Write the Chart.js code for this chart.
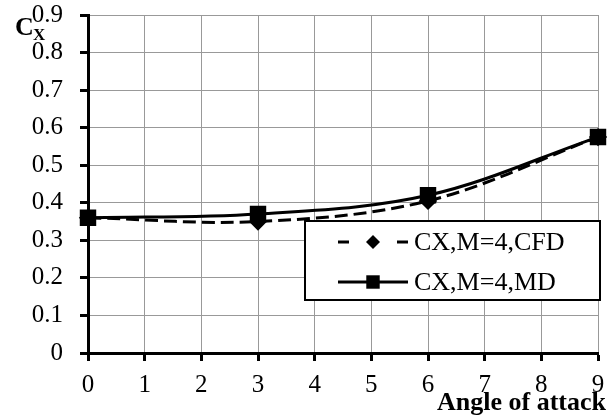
<!DOCTYPE html>
<html lang="en">

<head>
    <meta charset="UTF-8">
    <title>Cx vs angle of attack</title>
    <script src="https://cdn.jsdelivr.net/npm/chart.js"></script>
    <style>
        body { margin: 0; background: #ffffff; }
        #wrap { width: 613px; height: 419px; position: relative; }
    </style>
</head>

<body>
    <div id="wrap"><canvas id="myChart"></canvas></div>

    <script>
        // values
        const angles = [ 0, 3, 6, 9 ];
        const cxCfd = [ 0.36, 0.35, 0.405, 0.575 ];
        const cxMd = [ 0.36, 0.37, 0.42, 0.575 ];
        const seriesLabels = [ 'CX,M=4,CFD', 'CX,M=4,MD' ];
        const xTitle = 'Angle of attack';

        const serif = "'Liberation Serif', 'Times New Roman', serif";

        const toPoints = ( ys ) => angles.map( ( a, i ) => ( { x: a, y: ys[ i ] } ) );

        // draws the C_x label, the x title and the boxed legend
        const extrasPlugin = {
            id: 'extras',
            afterDraw( chart ) {
                const ctx = chart.ctx;
                ctx.save();
                ctx.fillStyle = '#000';
                ctx.textBaseline = 'alphabetic';
                ctx.textAlign = 'left';
                ctx.font = `bold 26px ${ serif }`;
                ctx.fillText( 'C', 15, 35 );
                ctx.font = `bold 17px ${ serif }`;
                ctx.fillText( 'X', 33, 40 );

                ctx.font = `bold 26px ${ serif }`;
                ctx.textAlign = 'right';
                ctx.textBaseline = 'middle';
                ctx.fillText( xTitle, 606, 403 );

                // legend box
                const bx = 305, by = 221, bw = 295, bh = 79;
                ctx.fillStyle = '#fff';
                ctx.fillRect( bx, by, bw, bh );
                ctx.strokeStyle = '#000';
                ctx.lineWidth = 2;
                ctx.strokeRect( bx, by, bw, bh );

                const rows = [ 242, 282 ];
                chart.data.datasets.forEach( ( ds, i ) => {
                    const y = rows[ i ];
                    ctx.strokeStyle = ds.borderColor;
                    ctx.lineWidth = ds.borderWidth;
                    ctx.beginPath();
                    if ( ds.borderDash ) {
                        ctx.moveTo( 338, y ); ctx.lineTo( 349, y );
                        ctx.moveTo( 397, y ); ctx.lineTo( 408, y );
                    } else {
                        ctx.moveTo( 338, y ); ctx.lineTo( 408, y );
                    }
                    ctx.stroke();

                    ctx.fillStyle = '#000';
                    ctx.beginPath();
                    const r = ds.pointRadius;
                    if ( ds.pointStyle === 'rectRot' ) {
                        ctx.moveTo( 373 - r, y ); ctx.lineTo( 373, y - r );
                        ctx.lineTo( 373 + r, y ); ctx.lineTo( 373, y + r );
                        ctx.closePath();
                    } else {
                        const s = r * Math.SQRT1_2;
                        ctx.rect( 373 - s, y - s, 2 * s, 2 * s );
                    }
                    ctx.fill();

                    ctx.font = `26px ${ serif }`;
                    ctx.textAlign = 'left';
                    ctx.textBaseline = 'middle';
                    ctx.fillText( ds.label, 414, y + 1 );
                } );
                ctx.restore();
            }
        };

        const ctx = document.getElementById( 'myChart' ).getContext( '2d' );
        const myChart = new Chart( ctx, {
            type: 'scatter',
            data: {
                datasets: [
                    {
                        label: seriesLabels[ 0 ],
                        data: toPoints( cxCfd ),
                        showLine: true,
                        clip: false,
                        borderColor: '#000',
                        backgroundColor: '#000',
                        borderWidth: 3,
                        borderDash: [ 13, 6 ],
                        pointStyle: 'rectRot',
                        pointRadius: 7,
                        pointHoverRadius: 7,
                        tension: 0.35
                    },
                    {
                        label: seriesLabels[ 1 ],
                        data: toPoints( cxMd ),
                        showLine: true,
                        clip: false,
                        borderColor: '#000',
                        backgroundColor: '#000',
                        borderWidth: 3,
                        pointStyle: 'rect',
                        pointRadius: 9.5,
                        pointHoverRadius: 9.5,
                        tension: 0.35
                    }
                ]
            },
            options: {
                responsive: true,
                maintainAspectRatio: false,
                animation: false,
                layout: { padding: { left: 0, top: 15, right: 15, bottom: 0 } },
                plugins: {
                    legend: { display: false },
                    tooltip: { enabled: false }
                },
                scales: {
                    x: {
                        type: 'linear',
                        min: 0,
                        max: 9,
                        afterFit: ( scale ) => {
                            scale.height = 66;
                            scale.paddingLeft = 0;
                            scale.paddingRight = 0;
                        },
                        ticks: {
                            stepSize: 1,
                            color: '#000',
                            padding: 9,
                            font: { family: serif, size: 25 }
                        },
                        grid: { color: '#999999', lineWidth: 1, tickColor: '#000', tickWidth: 3, tickLength: 8 },
                        border: { color: '#000', width: 3 }
                    },
                    y: {
                        min: 0,
                        max: 0.9,
                        afterFit: ( scale ) => {
                            scale.width = 88;
                            scale.paddingTop = 0;
                            scale.paddingBottom = 0;
                        },
                        ticks: {
                            stepSize: 0.1,
                            color: '#000',
                            padding: 17,
                            font: { family: serif, size: 25 }
                        },
                        grid: { color: '#999999', lineWidth: 1, tickColor: '#000', tickWidth: 3, tickLength: 8 },
                        border: { color: '#000', width: 3 }
                    }
                }
            },
            plugins: [ extrasPlugin ]
        } );
    </script>
</body>

</html>
